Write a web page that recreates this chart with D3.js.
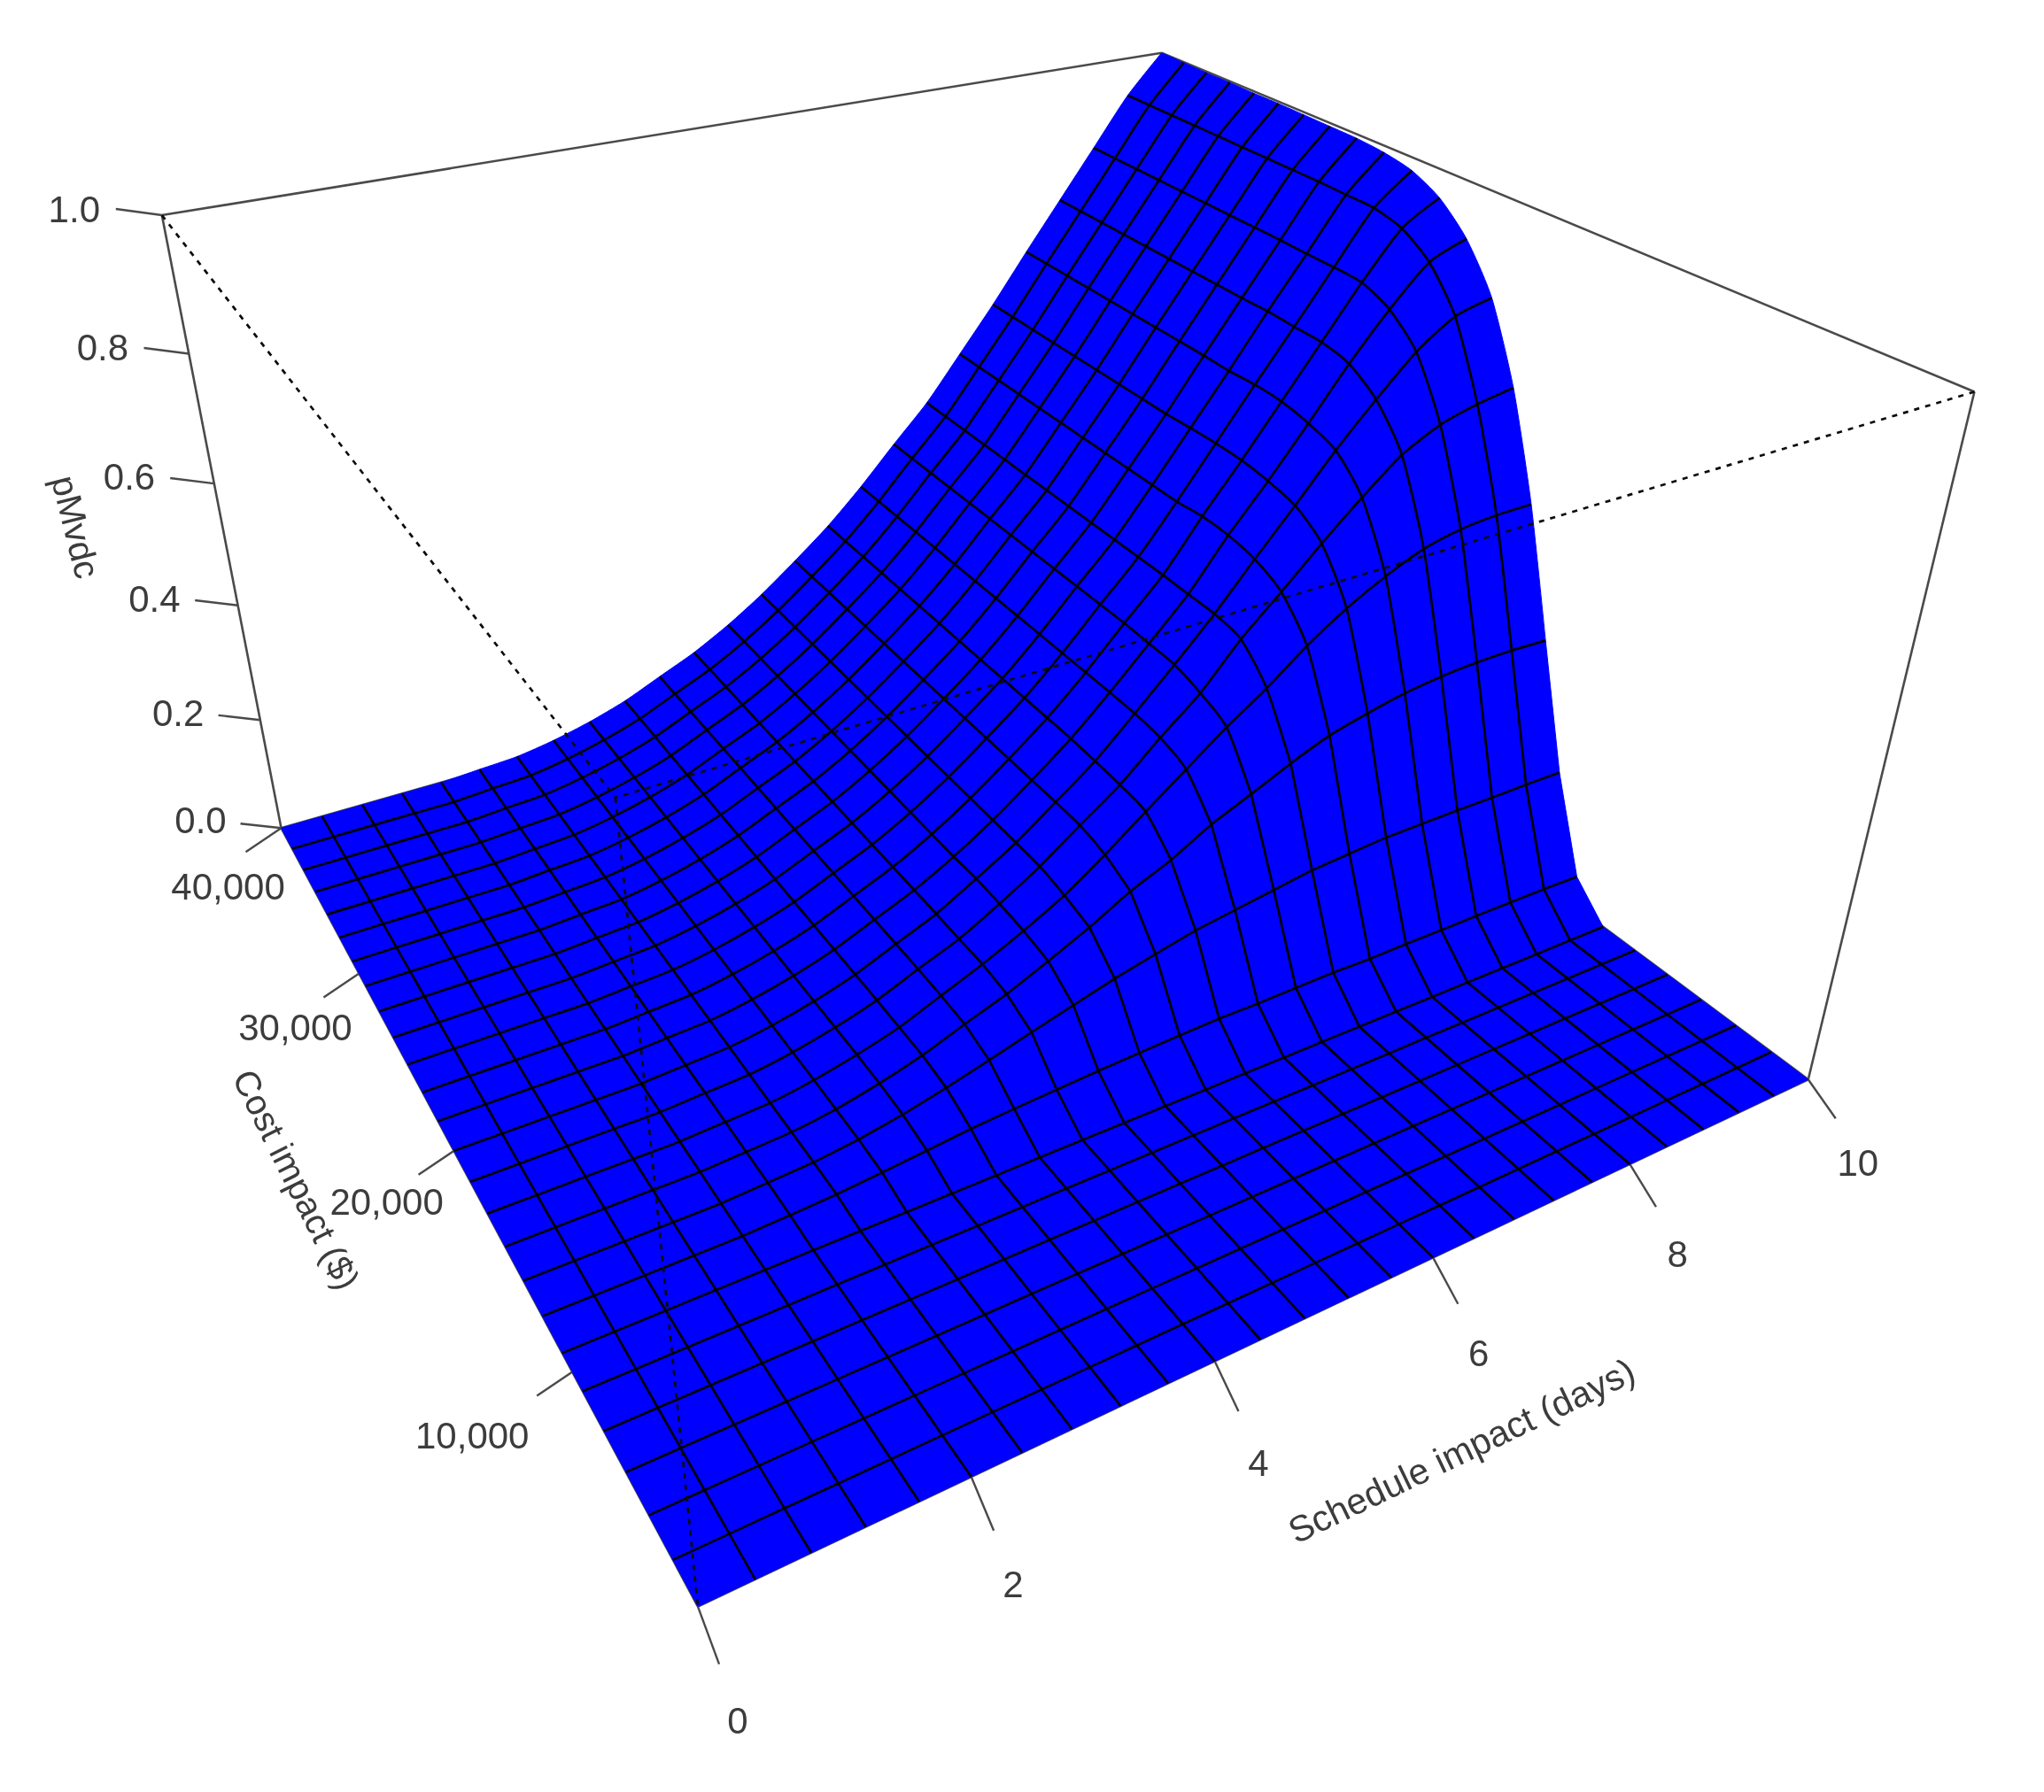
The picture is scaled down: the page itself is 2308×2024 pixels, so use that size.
<!DOCTYPE html><html><head><meta charset="utf-8"><script src="https://cdn.jsdelivr.net/npm/d3@7"></script>
<style>html,body{margin:0;background:#fff}svg{display:block;filter:blur(0.6px)}text{font-family:"Liberation Sans",Arial,sans-serif;fill:#3c3c3c;font-size:42px}</style></head><body><svg id="c" width="2308" height="2024"></svg><script>
// ---------- data ----------
const scheduleDays=[0,0.4,0.8,1.2,1.6,2,2.4,2.8,3.2,3.6,4,4.4,4.8,5.2,5.6,6,6.4,6.8,7.2,7.6,8,8.4,8.8,9.2,9.6,10];
const costDollars=[1538,3077,4615,6154,7692,9231,10769,12308,13846,15385,16923,18462,20000,21538,23077,24615,26154,27692,29231,30769,32308,33846,35385,36923,38462,40000];
const scheduleTicks=[0,2,4,6,8,10];
const costTicks=[10000,20000,30000,40000];
const pTicks=[0,0.2,0.4,0.6,0.8,1];
const titles=["Schedule impact (days)","Cost impact ($)","pMvdc"];
// one row per cost value, one column per schedule value
const pMvdc=[
[0,0,0,0,0,0,0,0,0,0,0,0,0,0,0,0,0,0,0,0,0,0,0,0,0,0],
[0,0,0,0,0,0,0,0,0,0,0,0,0,0,0,0,0,0,0,0,0,0,0,0,0,0],
[0,0,0,0,0,0,0,0,0,0,0,0,0,0,0,0,0,0,0,0,0,0,0,0,0,0],
[0,0,0,0,0,0,0,0,0,0,0,0,0,0,0,0,0,0,0,0,0,0,0,0,0,0],
[0,0,0,0,0,0,0,0,0,0,0,0,0,0,0,0,0,0,0,0,0,0,0,0,0,0],
[0,0,0,0,0,0,0,0,0,0,0,0,0,0,0,0,0,0,0,0,0,0,0,0,0,0],
[0,0,0,0,0,0,0,0,0,0,0,0,0,0,0,0,0,0,0,0,0,0,0,0,0,0],
[0,0,0,0,0,.003,.007,.013,.020,.027,.032,.036,.040,.043,.046,.048,.048,.049,.050,.049,.050,.050,.051,.051,.051,.050],
[0,0,0,0,0,.004,.008,.017,.030,.047,.066,.086,.105,.124,.140,.155,.165,.175,.185,.190,.195,.196,.197,.197,.198,.198],
[0,0,0,0,0,.004,.008,.018,.034,.054,.080,.105,.135,.167,.203,.232,.268,.296,.325,.350,.366,.379,.387,.391,.392,.390],
[0,0,0,0,0,.004,.008,.019,.035,.055,.083,.111,.143,.179,.224,.273,.321,.369,.412,.461,.502,.535,.561,.575,.581,.582],
[0,0,0,0,0,.004,.008,.019,.035,.056,.084,.111,.147,.187,.234,.280,.337,.390,.458,.515,.574,.629,.679,.710,.727,.738],
[0,0,0,0,0,.004,.008,.019,.035,.056,.084,.112,.149,.188,.235,.283,.342,.403,.467,.537,.605,.675,.738,.796,.836,.851],
[0,0,0,0,0,.004,.008,.019,.035,.056,.084,.112,.147,.188,.235,.285,.343,.405,.468,.546,.616,.691,.768,.837,.895,.918],
[0,0,0,0,0,.004,.008,.019,.035,.056,.084,.112,.147,.188,.235,.285,.343,.407,.469,.548,.622,.700,.778,.856,.925,.959],
[0,0,0,0,0,.004,.008,.019,.035,.056,.084,.112,.147,.188,.235,.285,.343,.407,.469,.544,.623,.702,.779,.858,.936,.981],
[0,0,0,0,0,.004,.008,.019,.035,.056,.084,.112,.147,.188,.235,.285,.343,.407,.469,.544,.622,.700,.781,.858,.937,.990],
[0,0,0,0,0,.004,.008,.019,.035,.056,.084,.112,.147,.188,.235,.285,.343,.407,.469,.544,.620,.701,.780,.859,.938,.994],
[0,0,0,0,0,.004,.008,.019,.035,.056,.084,.112,.147,.188,.235,.285,.343,.407,.469,.544,.620,.701,.780,.859,.938,.995],
[0,0,0,0,0,.004,.008,.019,.035,.056,.084,.112,.147,.188,.235,.285,.343,.407,.469,.544,.620,.701,.780,.859,.938,.996],
[0,0,0,0,0,.004,.008,.019,.035,.056,.084,.112,.147,.188,.235,.285,.343,.407,.469,.544,.620,.701,.780,.859,.938,.997],
[0,0,0,0,0,.004,.008,.019,.035,.056,.084,.112,.147,.188,.235,.285,.343,.407,.469,.544,.620,.701,.780,.859,.938,.997],
[0,0,0,0,0,.004,.008,.019,.035,.056,.084,.112,.147,.188,.235,.285,.343,.407,.469,.544,.620,.701,.780,.859,.938,.998],
[0,0,0,0,0,.004,.008,.019,.035,.056,.084,.112,.147,.188,.235,.285,.343,.407,.469,.544,.620,.701,.780,.859,.938,.998],
[0,0,0,0,0,.004,.008,.019,.035,.056,.084,.112,.147,.188,.235,.285,.343,.407,.469,.544,.620,.701,.780,.859,.938,.999],
[0,0,0,0,0,.004,.008,.019,.035,.056,.084,.112,.147,.188,.235,.285,.343,.407,.469,.544,.620,.701,.780,.859,.938,1]
];
// ---------- scales and camera ----------
const sx=d3.scaleLinear().domain([0,10]).range([0,1]);
const sy=d3.scaleLinear().domain([1538,40000]).range([0,1]);
const sz=d3.scaleLinear().domain([0,1]).range([0,1]);
// camera matrix of the box (perspective), maps unit cube to page pixels
const camera=[[1879.308,-302.4214,-246.3278,788.035],[-221.7566,-384.2134,-1112.201,1814.541],[0.3063963,0.5293401,-0.220453,1]];
const proj=(u,v,w)=>{const d=camera[2][0]*u+camera[2][1]*v+camera[2][2]*w+camera[2][3];
 return [(camera[0][0]*u+camera[0][1]*v+camera[0][2]*w+camera[0][3])/d,(camera[1][0]*u+camera[1][1]*v+camera[1][2]*w+camera[1][3])/d];};
const node=(i,j)=>proj(sx(scheduleDays[i]),sy(costDollars[j]),sz(pMvdc[j][i]));
const svg=d3.select("#c"),line=d3.line(),curve=d3.line().curve(d3.curveCardinal.tension(0.35));
const boxColor="#4a4a4a";
const seg=(a,b,cls)=>{const p=svg.append("path").attr("d",line([proj(...a),proj(...b)])).attr("fill","none");
 if(cls==="dot")p.attr("stroke","#0c0c0c").attr("stroke-width",2.7).attr("stroke-dasharray","6 7");else p.attr("stroke",boxColor).attr("stroke-width",2.6);};
// back of the box and base
[[[1,1,0],[1,1,1]],[[0,1,0],[1,1,0]],[[1,0,0],[1,1,0]],[[0,1,1],[1,1,1]],[[1,1,1],[1,0,1]],[[0,1,1],[0,1,0]],[[1,0,1],[1,0,0]],[[0,1,0],[0,0,0]],[[0,0,0],[1,0,0]]].forEach(e=>seg(e[0],e[1]));
// ticks and tick labels
const xTickOff=[d3.scaleLinear().domain([0,1]).range([24,31]),d3.scaleLinear().domain([0,1]).range([65,44])];
const xLabOff=[d3.scaleLinear().domain([0,1]).range([45,56]),d3.scaleLinear().domain([0,1]).range([128,94])];
const zTickOff=[d3.scaleLinear().domain([0,1]).range([-46,-52]),d3.scaleLinear().domain([0,1]).range([-5,-7])];
const zLabOff=[d3.scaleLinear().domain([0,1]).range([-91,-99]),d3.scaleLinear().domain([0,1]).range([-9,-7])];
const yTickOff=[-40,27];
const yLabOff=[[-113,71],[-76,57],[-72,60],[-60,66]];
const tick=(p,o)=>svg.append("path").attr("d",line([p,[p[0]+o[0],p[1]+o[1]]])).attr("stroke",boxColor).attr("stroke-width",2.4);
const lab=(p,o,t)=>svg.append("text").attr("x",p[0]+o[0]).attr("y",p[1]+o[1]).attr("text-anchor","middle").attr("dy",".36em").text(t);
scheduleTicks.forEach(t=>{const u=sx(t),p=proj(u,0,0);tick(p,[xTickOff[0](u),xTickOff[1](u)]);lab(p,[xLabOff[0](u),xLabOff[1](u)],d3.format("d")(t));});
costTicks.forEach((t,k)=>{const p=proj(0,sy(t),0);tick(p,yTickOff);lab(p,yLabOff[k],d3.format(",")(t));});
pTicks.forEach(t=>{const w=sz(t),p=proj(0,1,w);tick(p,[zTickOff[0](w),zTickOff[1](w)]);lab(p,[zLabOff[0](w),zLabOff[1](w)],d3.format(".1f")(t));});
// surface: outline fill, then the mesh lines (straight low on the cliff foot, gently smoothed above it)
const I=d3.range(scheduleDays.length),J=d3.range(costDollars.length),footRow=9;
const rowPts=j=>I.map(i=>node(i,j));
const rowPath=j=>j<footRow?line(rowPts(j)):curve(rowPts(j));
const colPath=i=>{const p=J.map(j=>node(i,j));return line(p.slice(0,footRow+1))+curve(p.slice(footRow)).replace(/^M[^CL]*/,"");};
const colRev=i=>{const p=J.map(j=>node(i,j)).reverse();const n=p.length-footRow;return curve(p.slice(0,n))+line(p.slice(n-1)).replace(/^M[^L]*/,"");};
const outline=[line(rowPts(0)),colPath(25).replace(/^M/,"L"),curve(rowPts(25).reverse()).replace(/^M/,"L"),colRev(0).replace(/^M/,"L")].join("")+"Z";
svg.append("path").attr("d",outline).attr("fill","#0000ff").attr("stroke","#0000ff").attr("stroke-width",1);
svg.selectAll("path.row").data(J.slice(1,25)).join("path").attr("class","row").attr("d",rowPath).attr("fill","none").attr("stroke","#000").attr("stroke-width",2.7);
svg.selectAll("path.col").data(I.slice(1,25)).join("path").attr("class","col").attr("d",colPath).attr("fill","none").attr("stroke","#000").attr("stroke-width",2.7);
// front of the box: dotted, on top of everything
[[[0,1,1],[0,0,1]],[[1,0,1],[0,0,1]],[[0,0,1],[0,0,0]]].forEach(e=>seg(e[0],e[1],"dot"));
// axis titles
const title=(t,x,y,a,s)=>svg.append("text").attr("transform",`translate(${x},${y}) rotate(${a})`).attr("text-anchor","middle").attr("dy",".36em").style("font-size",s+"px").text(t);
title(titles[0],1650,1638,-25.7,41);title(titles[1],335,1332,63.5,40);title(titles[2],86,595,76,40);
</script></body></html>
